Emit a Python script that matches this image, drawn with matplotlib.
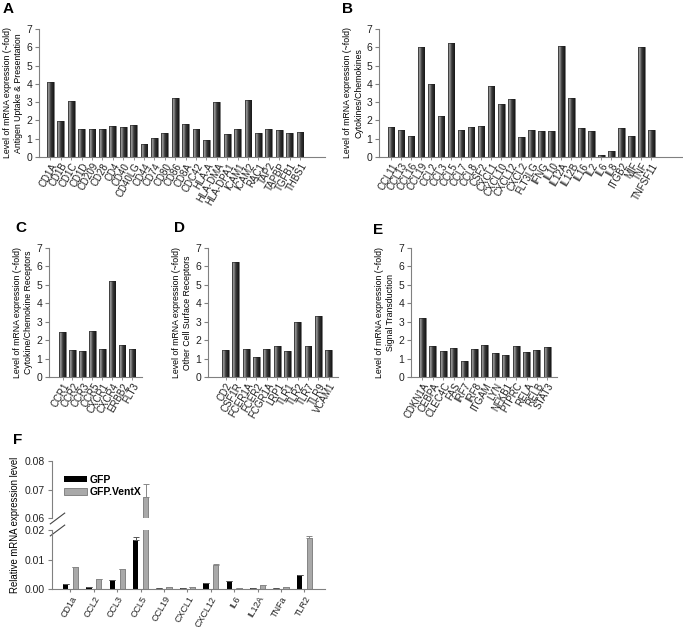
import numpy as np
import matplotlib
matplotlib.use('Agg')
import matplotlib.pyplot as plt
from matplotlib.colors import LinearSegmentedColormap

plt.rcParams['font.family'] = ['Liberation Sans', 'DejaVu Sans']
plt.rcParams['font.size'] = 7.5

# A - antigen uptake & presentation
genes_a = ['CD1A', 'CD1B', 'CD1C', 'CD1D', 'CD209', 'CD28', 'CD4', 'CD40', 'CD40LG',
           'CD44', 'CD74', 'CD80', 'CD86', 'CD8A', 'CDC42', 'HLA-A', 'HLA-DMA',
           'HLA-DPA1', 'ICAM1', 'ICAM2', 'RAC1', 'TAP2', 'TAPBP', 'TGFB1', 'THBS1']
fold_a = [4.1, 1.97, 3.05, 1.54, 1.54, 1.55, 1.7, 1.65, 1.75,
          0.71, 1.02, 1.3, 3.2, 1.79, 1.55, 0.91, 3.0,
          1.24, 1.55, 3.14, 1.32, 1.55, 1.5, 1.3, 1.37]

# B - cytokines / chemokines
genes_b = ['CCL11', 'CCL13', 'CCL16', 'CCL19', 'CCL2', 'CCL3', 'CCL5', 'CCL7', 'CCL8',
           'CSF2', 'CXCL1', 'CXCL10', 'CXCL12', 'CXCL2', 'FLT3LG', 'IFNG', 'IL10',
           'IL12A', 'IL12B', 'IL16', 'IL2', 'IL6', 'IL8', 'ITGB2', 'MIF', 'TNF', 'TNFSF11']
fold_b = [1.62, 1.45, 1.15, 6.0, 3.98, 2.25, 6.25, 1.5, 1.65,
          1.7, 3.9, 2.88, 3.18, 1.08, 1.48, 1.4, 1.4,
          6.07, 3.25, 1.6, 1.42, 0.1, 0.33, 1.57, 1.15, 6.0, 1.48]

# C - cytokine/chemokine receptors
genes_c = ['CCR1', 'CCR2', 'CCR3', 'CCR5', 'CXCR1', 'CXCR4', 'ERBB2', 'FLT3']
fold_c = [2.42, 1.46, 1.4, 2.52, 1.5, 5.2, 1.72, 1.52]

# D - other cell surface receptors
genes_d = ['CD2', 'CSF1R', 'FCER1A', 'FCER2', 'FCGR1A', 'LRP1', 'TLR1', 'TLR2',
           'TLR7', 'TLR9', 'VCAM1']
fold_d = [1.46, 6.26, 1.52, 1.07, 1.5, 1.7, 1.39, 2.98, 1.7, 3.33, 1.45]

# E - signal transduction
genes_e = ['CDKN1A', 'CEBPA', 'CLEC4C', 'FAS', 'IRF7', 'IRF8', 'ITGAM', 'LYN',
           'NFKB1', 'PTPRC', 'RELA', 'RELB', 'STAT3']
fold_e = [3.2, 1.68, 1.41, 1.59, 0.85, 1.52, 1.75, 1.28, 1.21, 1.66, 1.34, 1.46, 1.61]

# F - qPCR
genes_f = ['CD1a', 'CCL2', 'CCL3', 'CCL5', 'CCL19', 'CXCL1', 'CXCL12', 'IL6',
           'IL12A', 'TNFa', 'TLR2']
gfp = [0.0018, 0.0008, 0.0029, 0.0166, 0.0002, 0.0002, 0.0022, 0.0028, 0.0004, 0.0002, 0.0047]
gfp_err = [0, 0, 0, 0.0009, 0, 0, 0, 0, 0, 0, 0]
ventx = [0.0075, 0.0034, 0.0068, 0.0674, 0.0006, 0.0007, 0.0083, 0.0003, 0.0013, 0.0006, 0.0172]
ventx_err = [0.0001, 0.0001, 0.0001, 0.0044, 0, 0, 0.0001, 0, 0.0001, 0, 0.0006]

W, H = 683, 627
fig = plt.figure(figsize=(W / 100, H / 100), dpi=100)


def px_rect(x0, y0, x1, y1):
    # pixel box (top-left origin) -> figure fractions
    return [x0 / W, 1 - y1 / H, (x1 - x0) / W, (y1 - y0) / H]


bar_cmap = LinearSegmentedColormap.from_list(
    'cyl', [(0, '#5c5c5c'), (0.22, '#a0a0a0'), (0.55, '#3a3a3a'), (1, '#161616')])
grad = np.linspace(0, 1, 64).reshape(1, -1)
GREY = '#808080'


def fold_panel(box, genes, vals, xlim, ylabel):
    ax = fig.add_axes(px_rect(*box))
    x = np.arange(len(genes))
    bars = ax.bar(x, vals, width=0.66, color='none', edgecolor='#1e1e1e',
                  linewidth=0.4, zorder=3)
    for b in bars:
        x0, w, h = b.get_x(), b.get_width(), b.get_height()
        im = ax.imshow(grad, cmap=bar_cmap, extent=[x0, x0 + w, 0, h],
                       aspect='auto', zorder=2, interpolation='bilinear')
        im.set_clip_path(b)
    ax.set_xlim(*xlim)
    ax.set_ylim(0, 7)
    ax.set_yticks(range(8))
    ax.set_xticks(x)
    ax.set_xticklabels(genes, rotation=60, ha='right', rotation_mode='anchor', fontsize=7)
    for s in ('top', 'right'):
        ax.spines[s].set_visible(False)
    for s in ('left', 'bottom'):
        ax.spines[s].set_color(GREY)
        ax.spines[s].set_linewidth(0.8)
    ax.tick_params(axis='y', colors=GREY, labelcolor='#222', length=3, width=0.8,
                   labelsize=7.5, pad=2)
    ax.tick_params(axis='x', colors=GREY, labelcolor='#222', length=2, width=0.6, pad=1)
    ax.set_ylabel(ylabel, fontsize=6.3, linespacing=1.35, labelpad=2)
    return ax


ylab = 'Level of mRNA expression (~fold)\n'
fold_panel((39, 29, 325, 157), genes_a, fold_a, (-1.1, 26.4),
           ylab + 'Antigen Uptake & Presentation')
fold_panel((379, 29, 682, 157), genes_b, fold_b, (-1.2, 29.05),
           ylab + 'Cytokines/Chemokines')
fold_panel((49, 248, 142, 377), genes_c, fold_c, (-1.36, 8.0),
           ylab + 'Cytokine/Chemokine Receptors')
fold_panel((208, 248, 338, 377), genes_d, fold_d, (-1.7, 10.9),
           ylab + 'Other Cell Surface Receptors')
fold_panel((411, 248, 557, 377), genes_e, fold_e, (-1.1, 12.93),
           ylab + 'Signal Transduction')

# F - broken y axis
axu = fig.add_axes(px_rect(52, 461, 325, 518))
axl = fig.add_axes(px_rect(52, 530, 325, 589))
xf = np.arange(len(genes_f))
for ax in (axu, axl):
    ax.bar(xf - 0.21, gfp, 0.22, color='black', label='GFP',
           yerr=[np.zeros(len(gfp)), gfp_err], capsize=2,
           error_kw=dict(ecolor='#555', elinewidth=0.7, capthick=0.7))
    ax.bar(xf + 0.21, ventx, 0.22, color='#a9a9a9', edgecolor='#777', linewidth=0.6,
           label='GFP.VentX', yerr=[np.zeros(len(ventx)), ventx_err], capsize=2,
           error_kw=dict(ecolor='#888', elinewidth=0.7, capthick=0.7))
    ax.set_xlim(-0.79, 10.88)
    ax.spines['right'].set_visible(False)
    for s in ('left', 'bottom', 'top'):
        ax.spines[s].set_color(GREY)
        ax.spines[s].set_linewidth(0.8)
    ax.tick_params(colors=GREY, labelcolor='#222', length=3, width=0.8, labelsize=7.5, pad=2)
    ax.yaxis.set_major_formatter(plt.FormatStrFormatter('%.2f'))

axu.set_ylim(0.06, 0.08)
axu.set_yticks([0.06, 0.07, 0.08])
axu.spines['bottom'].set_visible(False)
axu.spines['top'].set_visible(False)
axu.set_xticks([])
axl.set_ylim(0, 0.02)
axl.set_yticks([0, 0.01, 0.02])
axl.spines['top'].set_visible(False)
axl.set_xticks(xf)
axl.set_xticklabels(genes_f, rotation=60, ha='right', rotation_mode='anchor', fontsize=6.5)
axl.tick_params(axis='x', length=2)

brk = dict(marker=[(-1, -0.75), (1, 0.75)], markersize=11, linestyle='none',
           color='#444', mec='#444', mew=0.8, clip_on=False)
axu.plot([0.02], [0], transform=axu.transAxes, **brk)
axl.plot([0.02], [1], transform=axl.transAxes, **brk)

axu.legend(loc='upper left', bbox_to_anchor=(0.02, 0.87), frameon=False,
           prop=dict(weight='bold', size=7.5), handlelength=2.2, handleheight=0.55,
           labelspacing=0.25, handletextpad=0.25, borderaxespad=0.2)

fig.text(15 / W, 1 - 525 / H, 'Relative mRNA expression level', rotation=90,
         va='center', ha='center', fontsize=6.9)

# panel letters
for letter, (lx, ly) in {'A': (3, 2), 'B': (342, 2), 'C': (15, 221), 'D': (174, 221),
                         'E': (373, 223), 'F': (13, 433)}.items():
    fig.text(lx / W, 1 - ly / H, letter, fontsize=11, fontweight='bold', va='top', ha='left')

fig.savefig('out.png', dpi=100)
